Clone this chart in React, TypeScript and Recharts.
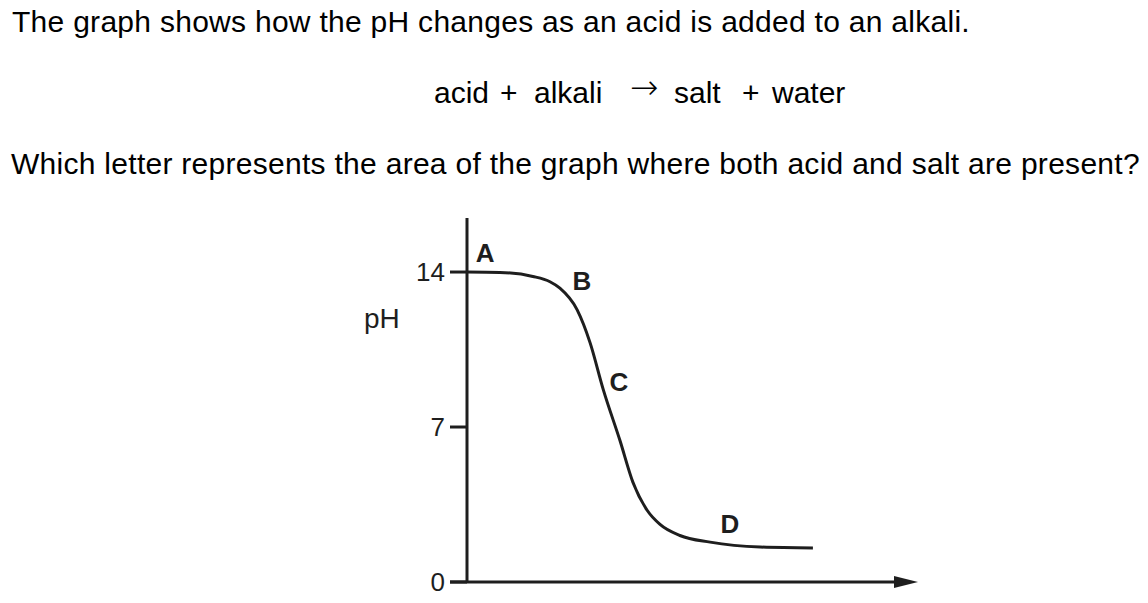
import React from "react";
import { LineChart, Line, XAxis, YAxis, ReferenceDot, ReferenceLine } from "recharts";

// volume of acid added (arbitrary units) and pH
const volume = [0, 7.3, 14.6, 18.4, 20.6, 24.4, 27.3, 30.2, 33.9, 36.8, 39.9, 42.8, 47.2, 53.9, 65.0, 76.7];
const ph = [14.0, 13.98, 13.8, 13.56, 13.27, 12.3, 10.8, 8.7, 6.4, 4.5, 3.25, 2.6, 2.1, 1.8, 1.58, 1.54];

const yTicks = [0, 7, 14];

// region letters, placed in data coordinates
const letters = ["A", "B", "C", "D"];
const letterVolume = [4.0, 25.5, 33.7, 58.3];
const letterPh = [14.88, 13.62, 9.03, 2.62];

const data = volume.map((v, i) => ({ v, ph: ph[i] }));

const ink = "#1e1e1e";
const font = "'Liberation Sans', Arial, sans-serif";

const ArrowAxis = (props: any) => {
  const { x1, y1, x2, y2 } = props;
  return (
    <g>
      <line x1={x1 - 17} y1={y1} x2={x2 - 18} y2={y2} stroke={ink} strokeWidth={3} />
      <polygon points={`${x2},${y2} ${x2 - 24},${y2 - 6} ${x2 - 24},${y2 + 6}`} fill={ink} />
    </g>
  );
};

const App: React.FC = () => {
  const textStyle: React.CSSProperties = {
    position: "absolute",
    fontFamily: font,
    fontSize: 30,
    color: "#000",
    whiteSpace: "pre",
    lineHeight: "30px",
    letterSpacing: 0.28,
  };
  const eq: React.CSSProperties = { ...textStyle, top: 78, letterSpacing: 0 };
  return (
    <div style={{ position: "absolute", left: 0, top: 0, width: 1148, height: 603, background: "#fff" }}>
      <div style={{ ...textStyle, left: 12, top: 6.5 }}>
        The graph shows how the pH changes as an acid is added to an alkali.
      </div>
      <div style={{ ...eq, left: 434 }}>acid</div>
      <div style={{ ...eq, left: 500 }}>+</div>
      <div style={{ ...eq, left: 534 }}>alkali</div>
      <div
        style={{
          ...eq,
          left: 630,
          top: 70,
          fontFamily: "'DejaVu Sans'",
          fontWeight: 200,
          fontSize: 34,
          lineHeight: "34px",
        }}
      >
        →
      </div>
      <div style={{ ...eq, left: 674 }}>salt</div>
      <div style={{ ...eq, left: 742 }}>+</div>
      <div style={{ ...eq, left: 772 }}>water</div>
      <div style={{ ...textStyle, left: 11, top: 149 }}>
        Which letter represents the area of the graph where both acid and salt are present?
      </div>
      <div style={{ ...textStyle, left: 364, top: 305, fontSize: 28, lineHeight: "28px", letterSpacing: 0, color: ink }}>pH</div>

      <div style={{ position: "absolute", left: 0, top: 0 }}>
        <LineChart
          width={1148}
          height={603}
          data={data}
          margin={{ top: 218, right: 230, bottom: 21, left: 387 }}
        >
          <XAxis
            dataKey="v"
            type="number"
            domain={[0, 100]}
            height={0}
            axisLine={false}
            tick={false}
            tickLine={false}
          />
          <YAxis
            dataKey="ph"
            type="number"
            domain={[0, 16.44]}
            ticks={yTicks}
            width={80}
            interval={0}
            allowDataOverflow
            axisLine={{ stroke: ink, strokeWidth: 3 }}
            tickLine={{ stroke: ink, strokeWidth: 3 }}
            tickSize={17}
            tickMargin={5}
            tick={{ fill: ink, fontSize: 26, fontFamily: font }}
          />
          <ReferenceLine
            segment={[
              { x: 0, y: 0 },
              { x: 100, y: 0 },
            ]}
            ifOverflow="visible"
            shape={ArrowAxis}
          />
          <Line
            type="monotone"
            dataKey="ph"
            stroke={ink}
            strokeWidth={3}
            dot={false}
            isAnimationActive={false}
          />
          {letters.map((l, i) => (
            <ReferenceDot
              key={l}
              x={letterVolume[i]}
              y={letterPh[i]}
              r={0}
              ifOverflow="visible"
              label={{ value: l, position: "center", fill: ink, fontSize: 26, fontWeight: "bold", fontFamily: font }}
            />
          ))}
        </LineChart>
      </div>
    </div>
  );
};

export default App;
